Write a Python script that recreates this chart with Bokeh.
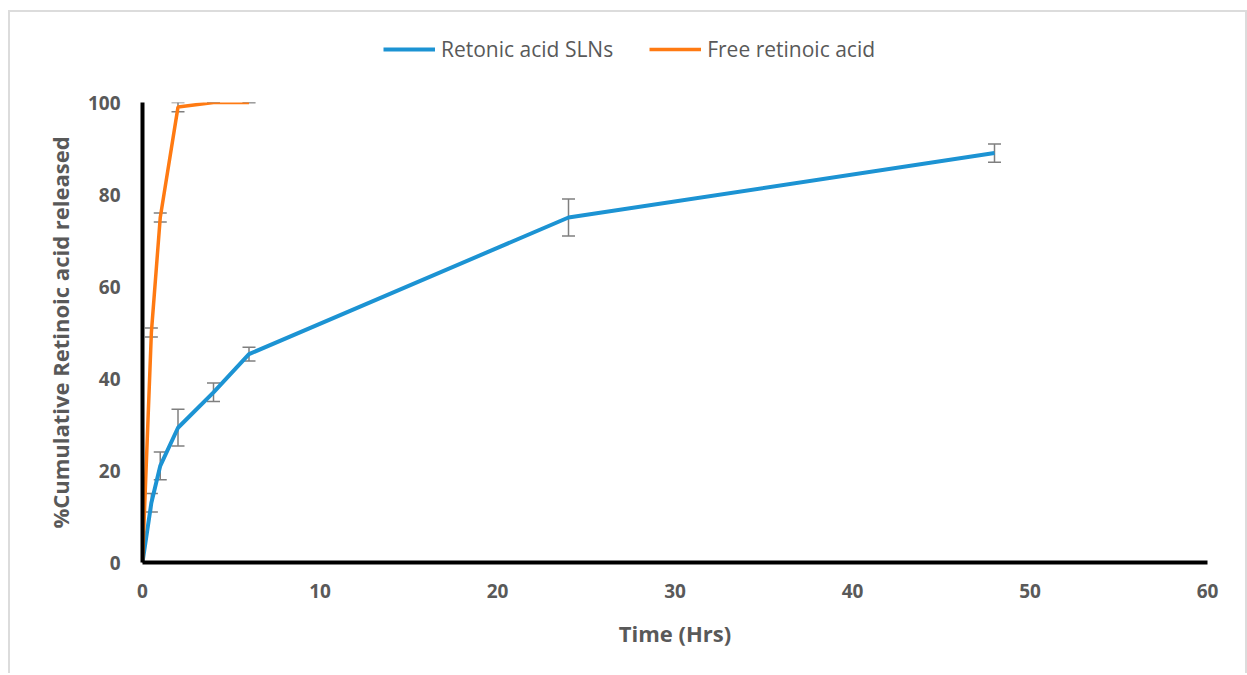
from bokeh.plotting import figure
from bokeh.models import Range1d, ColumnDataSource, Whisker, TeeHead, Legend, LegendItem, FixedTicker
from bokeh.layouts import column
from bokeh.embed import file_html
from bokeh.resources import INLINE

# Data
sln_time = [0, 0.5, 1, 2, 4, 6, 24, 48]
sln_release = [0, 13, 21, 29.3, 37, 45.3, 75, 89]
sln_err = [0, 2, 3, 4, 2, 1.5, 4, 2]

free_time = [0, 0.5, 1, 2, 4, 6]
free_release = [0, 50, 75, 99, 100, 100]
free_err = [0, 1, 1, 1, 0, 0]

series_names = ["Retonic acid SLNs", "Free retinoic acid"]

x_ticks = [0, 10, 20, 30, 40, 50, 60]
y_ticks = [0, 20, 40, 60, 80, 100]

BLUE = "#1C93D3"
ORANGE = "#FF7A12"
GRAY_TXT = "#595959"

LEG_H = 70

src_s = ColumnDataSource(dict(x=sln_time, y=sln_release,
                              lo=[v - e for v, e in zip(sln_release, sln_err)],
                              hi=[v + e for v, e in zip(sln_release, sln_err)]))
src_f = ColumnDataSource(dict(x=free_time, y=free_release,
                              lo=[v - e for v, e in zip(free_release, free_err)],
                              hi=[v + e for v, e in zip(free_release, free_err)]))

# ---- legend strip (separate figure so the legend sits above the plot) ----
leg = figure(width=1235, height=LEG_H, output_backend="svg", toolbar_location=None,
             x_range=Range1d(1000, 1001), y_range=Range1d(1000, 1001),
             x_axis_type=None, y_axis_type=None,
             min_border_left=132, min_border_right=38, min_border_top=0, min_border_bottom=0)
leg.outline_line_color = None
leg.grid.grid_line_color = None
leg.border_fill_color = "white"
ls_leg = leg.line("x", "y", source=src_s, line_color=BLUE, line_width=4)
lf_leg = leg.line("x", "y", source=src_f, line_color=ORANGE, line_width=3.5)
legend = Legend(items=[LegendItem(label=series_names[0], renderers=[ls_leg]),
                       LegendItem(label=series_names[1], renderers=[lf_leg])],
                orientation="horizontal", location=(241, 19),
                glyph_width=52, glyph_height=20, label_standoff=6, spacing=36,
                padding=0, margin=0, border_line_color=None, background_fill_alpha=0,
                label_text_font="Open Sans", label_text_font_size="21px",
                label_text_color=GRAY_TXT)
leg.add_layout(legend)

# ---- main chart ----
p = figure(width=1235, height=661 - LEG_H, output_backend="svg", toolbar_location=None,
           x_range=Range1d(0, 60), y_range=Range1d(0, 100),
           min_border_left=132, min_border_right=38, min_border_top=102 - 12 - LEG_H,
           min_border_bottom=111)
p.outline_line_color = None
p.grid.grid_line_color = None
p.background_fill_color = "white"
p.border_fill_color = "white"

for ax in (p.xaxis[0], p.yaxis[0]):
    ax.axis_line_color = "black"
    ax.axis_line_width = 4
    ax.major_tick_line_color = None
    ax.minor_tick_line_color = None
    ax.major_tick_out = 0
    ax.major_tick_in = 0
    ax.major_label_text_font = "Open Sans"
    ax.major_label_text_font_style = "bold"
    ax.major_label_text_font_size = "19px"
    ax.major_label_text_color = GRAY_TXT
    ax.axis_label_text_font = "Open Sans"
    ax.axis_label_text_font_style = "bold"
    ax.axis_label_text_font_size = "22px"
    ax.axis_label_text_color = GRAY_TXT

p.xaxis.ticker = FixedTicker(ticks=x_ticks)
p.yaxis.ticker = FixedTicker(ticks=y_ticks)
p.xaxis.axis_label = "Time (Hrs)"
p.yaxis.axis_label = "%Cumulative Retinoic acid released"
p.xaxis.major_label_standoff = 21
p.yaxis.major_label_standoff = 22
p.xaxis.axis_label_standoff = 17
p.yaxis.axis_label_standoff = 10

p.line("x", "y", source=src_s, line_color=BLUE, line_width=4)
p.line("x", "y", source=src_f, line_color=ORANGE, line_width=3.5)

for src in (src_s, src_f):
    w = Whisker(source=src, base="x", lower="lo", upper="hi",
                line_color="#7f7f7f", line_width=1.5,
                upper_head=TeeHead(size=13, line_color="#7f7f7f", line_width=1.5),
                lower_head=TeeHead(size=13, line_color="#7f7f7f", line_width=1.5))
    p.add_layout(w)

layout = column(leg, p, spacing=0,
                styles={"margin-left": "8px", "margin-top": "10px",
                        "border-top": "2px solid #dcdcdc", "border-left": "2px solid #dcdcdc",
                        "border-right": "2px solid #dcdcdc"})

open("out.html", "w").write(file_html(layout, INLINE))
